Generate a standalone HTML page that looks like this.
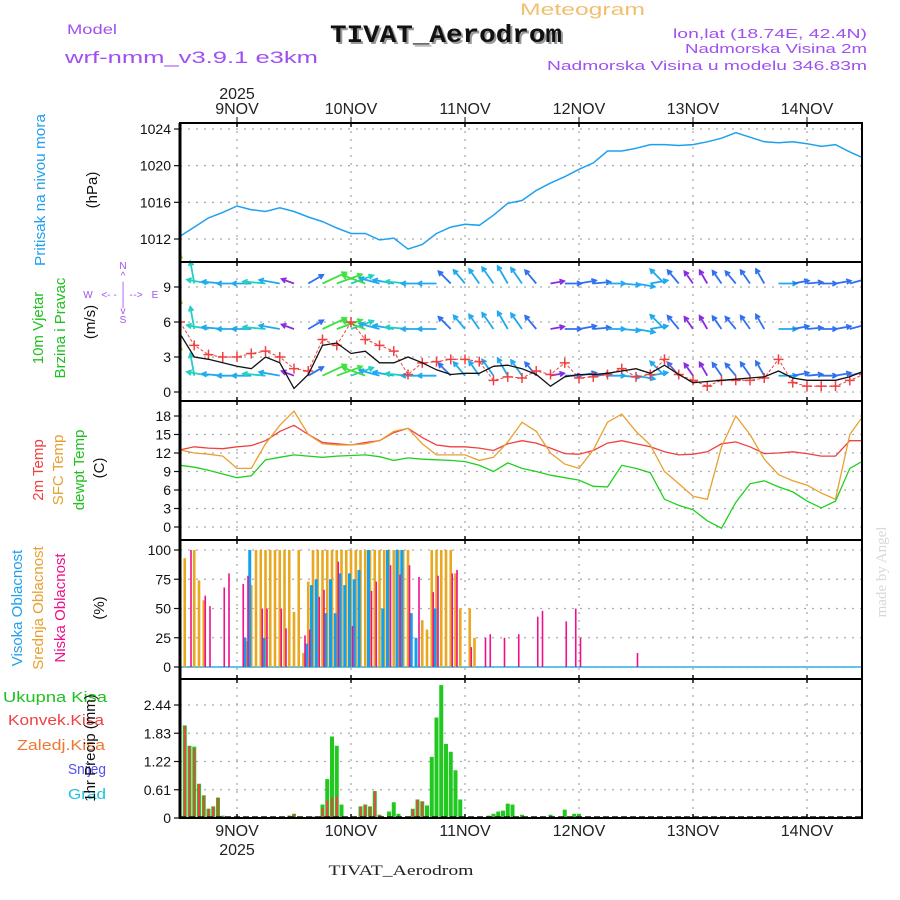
<!DOCTYPE html>
<html><head><meta charset="utf-8"><style>
html,body{margin:0;padding:0;background:#fff;}
svg{display:block;font-family:"Liberation Sans",sans-serif;}
</style></head><body>
<svg id="chart" width="900" height="900" viewBox="0 0 900 900" xmlns="http://www.w3.org/2000/svg">
<rect x="0" y="0" width="900" height="900" fill="#fff"/>
<text x="520" y="15" font-size="17" fill="#f0c070" textLength="125" lengthAdjust="spacingAndGlyphs">Meteogram</text>
<text x="67" y="34" font-size="14" fill="#a050f0" textLength="50" lengthAdjust="spacingAndGlyphs">Model</text>
<text x="65" y="63" font-size="17" fill="#a050f0" textLength="253" lengthAdjust="spacingAndGlyphs">wrf-nmm_v3.9.1 e3km</text>
<text x="448" y="44" font-size="25" font-weight="bold" fill="#999" text-anchor="middle" font-family="Liberation Mono,monospace" textLength="232" lengthAdjust="spacingAndGlyphs">TIVAT_Aerodrom</text>
<text x="446" y="42" font-size="25" font-weight="bold" fill="#111" text-anchor="middle" font-family="Liberation Mono,monospace" textLength="232" lengthAdjust="spacingAndGlyphs">TIVAT_Aerodrom</text>
<text x="867" y="38" font-size="13" fill="#a050f0" text-anchor="end" textLength="194" lengthAdjust="spacingAndGlyphs">lon,lat (18.74E, 42.4N)</text>
<text x="867" y="53" font-size="13" fill="#a050f0" text-anchor="end" textLength="182" lengthAdjust="spacingAndGlyphs">Nadmorska Visina 2m</text>
<text x="867" y="70" font-size="13" fill="#a050f0" text-anchor="end" textLength="320" lengthAdjust="spacingAndGlyphs">Nadmorska Visina u modelu 346.83m</text>
<text x="237" y="99" font-size="16" fill="#222" text-anchor="middle">2025</text>

<!-- left labels -->
<text transform="translate(45,190) rotate(-90)" font-size="15" fill="#20a0f0" text-anchor="middle" textLength="152" lengthAdjust="spacingAndGlyphs">Pritisak na nivou mora</text>
<text transform="translate(97,190) rotate(-90)" font-size="15" fill="#111" text-anchor="middle">(hPa)</text>
<text transform="translate(43,328) rotate(-90)" font-size="15" fill="#20c020" text-anchor="middle">10m Vjetar</text>
<text transform="translate(65,328) rotate(-90)" font-size="15" fill="#20c020" text-anchor="middle">Brzina i Pravac</text>
<text transform="translate(95,322) rotate(-90)" font-size="15" fill="#111" text-anchor="middle">(m/s)</text>
<g fill="#a050f0" font-size="10" text-anchor="middle">
<text x="123" y="269">N</text><text x="123" y="279">^</text><text x="123" y="289">|</text>
<text x="88" y="298">W</text><text x="106" y="298">&lt;-</text><text x="115" y="298">-</text><text x="123" y="298">|</text><text x="131" y="298">-</text><text x="138" y="298">-&gt;</text><text x="155" y="298">E</text>
<text x="123" y="306">|</text><text x="123" y="314">v</text><text x="123" y="323">S</text>
</g>
<text transform="translate(43,470) rotate(-90)" font-size="15" fill="#f04040" text-anchor="middle">2m Temp</text>
<text transform="translate(63,470) rotate(-90)" font-size="15" fill="#e8a030" text-anchor="middle">SFC Temp</text>
<text transform="translate(84,470) rotate(-90)" font-size="15" fill="#20c020" text-anchor="middle">dewpt Temp</text>
<text transform="translate(104,468) rotate(-90)" font-size="15" fill="#111" text-anchor="middle">(C)</text>
<text transform="translate(22,608) rotate(-90)" font-size="15" fill="#20a0f0" text-anchor="middle">Visoka Oblacnost</text>
<text transform="translate(43,608) rotate(-90)" font-size="15" fill="#e8a030" text-anchor="middle">Srednja Oblacnost</text>
<text transform="translate(65,608) rotate(-90)" font-size="15" fill="#f0108c" text-anchor="middle">Niska Oblacnost</text>
<text transform="translate(104,608) rotate(-90)" font-size="15" fill="#111" text-anchor="middle">(%)</text>
<text x="3" y="702" font-size="15" fill="#20c020" textLength="104" lengthAdjust="spacingAndGlyphs">Ukupna Kisa</text>
<text x="8" y="725" font-size="15" fill="#f04040" textLength="96" lengthAdjust="spacingAndGlyphs">Konvek.Kisa</text>
<text x="17" y="750" font-size="15" fill="#f07830" textLength="88" lengthAdjust="spacingAndGlyphs">Zaledj.Kisa</text>
<text x="68" y="774" font-size="15" fill="#5050f0" textLength="38" lengthAdjust="spacingAndGlyphs">Snijeg</text>
<text x="68" y="799" font-size="15" fill="#20c0e0" textLength="38" lengthAdjust="spacingAndGlyphs">Grad</text>
<text transform="translate(95,748) rotate(-90)" font-size="15" fill="#111" text-anchor="middle">1hr Precip (mm)</text>
<text transform="translate(886,572) rotate(-90)" font-size="15" fill="#d8d8d8" text-anchor="middle" font-family="Liberation Serif,serif">made by Angel</text>
<text x="237" y="855" font-size="16" fill="#222" text-anchor="middle">2025</text>
<text x="401" y="875" font-size="15" fill="#222" text-anchor="middle" font-family="Liberation Serif,serif" textLength="145" lengthAdjust="spacingAndGlyphs">TIVAT_Aerodrom</text>
<g id="plot"></g>
</svg>
<script>
// ---- data (time axis: hours from 8NOV 12Z; 3-hourly series) ----
const dayLabels = ["9NOV","10NOV","11NOV","12NOV","13NOV","14NOV"];
const dayHours = [12,36,60,84,108,132];
const pressTicks = [1012,1016,1020,1024];
const windTicks = [0,3,6,9];
const tempTicks = [0,3,6,9,12,15,18];
const cloudTicks = [0,25,50,75,100];
const precipTicks = [0,0.61,1.22,1.83,2.44];
const pressure = [1012.3,1013.3,1014.3,1014.9,1015.6,1015.2,1015.0,1015.4,1015.0,1014.4,1013.9,1013.2,1012.6,1012.6,1011.9,1012.1,1010.9,1011.4,1012.6,1013.3,1013.6,1013.5,1014.6,1015.9,1016.2,1017.3,1018.1,1018.8,1019.6,1020.3,1021.6,1021.6,1021.9,1022.3,1022.3,1022.2,1022.3,1022.6,1023.0,1023.6,1023.1,1022.6,1022.5,1022.6,1022.4,1022.1,1022.3,1021.5,1020.8];
const temp2m = [12.5,13.0,12.8,12.7,13.0,13.2,14.0,15.5,16.5,15.0,13.7,13.5,13.3,13.7,14.0,15.3,16.0,14.5,13.3,13.0,13.0,12.8,12.4,13.5,14.0,13.6,12.8,11.9,11.8,12.4,13.6,14.0,13.5,13.0,12.2,11.7,11.8,12.2,13.5,13.8,13.0,11.9,12.0,12.2,11.9,11.5,11.5,14.0,14.0];
const tempSfc = [12.5,12.0,11.8,11.5,9.5,9.5,13.5,16.5,18.8,15.0,13.5,13.3,13.3,13.5,14.0,15.5,16.0,13.5,11.7,11.7,11.7,10.8,11.3,13.8,17.0,15.5,12.0,10.2,9.5,12.5,17.0,18.3,15.5,13.3,9.0,7.0,5.0,4.5,13.0,18.0,15.0,11.0,8.5,7.5,6.8,5.5,4.5,15.0,18.2];
const dewpt = [10,9.7,9.2,8.6,8.0,8.3,10.9,11.3,11.7,11.5,11.3,11.5,11.6,11.7,11.4,10.8,11.2,11.0,10.9,10.8,10.6,10.0,9.0,10.4,9.5,9.0,8.4,8.0,7.6,6.6,6.5,10.0,9.5,8.8,4.5,3.5,2.8,1.0,-0.2,4.0,7.0,7.5,6.5,5.7,4.2,3.1,4.2,9.5,10.8];
const windSpeed = [5,3,2.8,2.5,2.2,2,3,2.5,0.3,1.5,4,4.2,3.3,3.5,2.5,2.5,3,2.5,1.9,1.5,1.6,1.6,2.2,2.3,2,1.5,0.5,1.3,1.5,1.5,1.6,1.8,2,1.6,2.3,1.5,0.8,0.9,1,1.1,1.2,1.3,1.8,1.2,1,1,1,1.3,1.8];
const windGust = [6,4,3.2,3,3,3.3,3.5,3,2,1.8,4.5,4,6,4.5,4,3.5,1.5,2.5,2.6,2.8,2.8,2.6,1,1.3,1.2,1.8,1.5,2.5,1.2,1.3,1.5,2,1.3,1.5,2.8,1.5,1,0.5,1,1,1,1.2,2.8,0.8,0.5,0.5,0.5,1,1.5];
const windAngle = [270,260,190,185,180,180,185,190,200,330,335,340,340,200,195,190,185,180,180,225,230,235,235,240,235,230,350,0,350,355,0,5,10,350,225,230,235,240,235,230,235,240,0,350,355,0,350,345,345];
const windRows = [9.3,5.4,1.4];
// cloud cover: hourly bars (hour index, percent)
const highHours = [14,15,18,27,28,29,31,32,33,34,35,36,37,38,40,43,44,46,47,49,50,54];
const highVals  = [25,100,25,20,70,75,46,75,46,80,70,80,75,83,100,50,100,100,100,46,25,50];
const midHours = [1,3,4,5,14,15,16,17,18,19,20,21,22,23,24,25,26,27,28,29,30,31,32,33,34,35,36,37,38,39,40,41,42,43,44,45,46,47,48,51,52,53,54,55,56,57,58,59,61,62];
const midVals  = [93,100,74,57,22,70,100,100,100,100,100,100,100,100,47,100,12,73,100,100,100,100,100,100,100,100,100,100,100,100,100,100,100,100,100,100,100,100,100,40,32,100,100,100,100,100,80,50,50,25];
const lowHours = [2,5,6,9,10,13,14,17,18,21,22,26,27,29,30,33,36,40,41,44,46,48,50,53,54,57,58,61,64,65,68,71,75,76,81,83,84,96];
const lowVals  = [100,61,52,68,80,71,78,50,50,50,33,27,32,60,66,90,35,65,73,87,79,87,77,64,78,80,83,17,25,28,25,28,43,48,39,50,25,12];
// precipitation (hour index, mm)
const totHours = [1,2,3,4,5,6,7,8,9,10,23,24,25,28,30,31,32,33,34,38,39,40,41,42,44,45,46,49,50,51,52,53,54,55,56,57,58,59,65,66,67,68,69,70,71,72,78,80,81,82,83,84];
const totVals  = [2.0,1.56,1.54,0.74,0.49,0.2,0.25,0.44,0.05,0.03,0.05,0.09,0.03,0.03,0.29,0.84,1.76,1.56,0.29,0.25,0.29,0.25,0.58,0.07,0.14,0.34,0.09,0.2,0.4,0.36,0.27,1.32,2.17,2.87,1.6,1.43,1.03,0.4,0.05,0.09,0.14,0.16,0.31,0.29,0.03,0.07,0.07,0.03,0.18,0.03,0.09,0.09];
const convHours = [1,2,3,4,5,6,7,8,9,23,24,25,30,31,32,33,38,39,40,41,42,49,50,51,55];
const convVals  = [1.98,1.55,1.5,0.73,0.48,0.2,0.25,0.44,0.03,0.05,0.09,0.03,0.22,0.38,0.44,0.47,0.25,0.29,0.25,0.58,0.07,0.18,0.4,0.36,0.02];

// ---- layout ----
const NS = "http://www.w3.org/2000/svg";
const plot = document.getElementById("plot");
const X0 = 180, X1 = 862;
const x = h => X0 + h * 4.75;
const stepH = 3;
const panels = {
  press: {top:123, bot:262, y: v => 129 + (1024 - v) * (110/12)},
  wind:  {top:262, bot:401, y: v => 392 - v * (105/9)},
  temp:  {top:401, bot:540, y: v => 527 - v * (111/18)},
  cloud: {top:540, bot:679, y: v => 667 - v * 1.17},
  precip:{top:679, bot:818, y: v => 818 - v * (113/2.44)}
};
function el(tag, attrs, parent) {
  const e = document.createElementNS(NS, tag);
  for (const k in attrs) e.setAttribute(k, attrs[k]);
  (parent || plot).appendChild(e);
  return e;
}
function group(name) {
  const g = el("g", {});
  
  
  return g;
}
const clip = el("clipPath", {id:"pc"});
el("rect", {x:X0, y:123, width:X1-X0, height:695}, clip);

function panelAxis(key, ticks, fmt, name) {
  const p = panels[key];
  const g = group(name);
  ticks.forEach(t => {
    const yy = p.y(t);
    const gl = el("line", {x1:X0, x2:X1, y1:yy, y2:yy, stroke:"#aaa", "stroke-width":1.3, "stroke-dasharray":"2,6"}, g);
    
    
    el("line", {x1:X0-6, x2:X0, y1:yy, y2:yy, stroke:"#111", "stroke-width":1.2}, g);
    const tx = el("text", {x:X0-9, y:yy+5, "font-size":14, fill:"#111", "text-anchor":"end"}, g);
    tx.textContent = fmt(t);
    
    
  });
  dayHours.forEach(h => {
    const vl = el("line", {x1:x(h), x2:x(h), y1:p.top, y2:p.bot, stroke:"#aaa", "stroke-width":1.3, "stroke-dasharray":"2,6"}, g);
    
    
    el("line", {x1:x(h), x2:x(h), y1:p.top, y2:p.top+4, stroke:"#111", "stroke-width":1.5}, g);
    el("line", {x1:x(h), x2:x(h), y1:p.bot-4, y2:p.bot, stroke:"#111", "stroke-width":1.5}, g);
  });
}
panelAxis("press", pressTicks, t => String(t), "pressure-axis");
panelAxis("wind", windTicks, t => String(t), "wind-axis");
panelAxis("temp", tempTicks, t => String(t), "temperature-axis");
panelAxis("cloud", cloudTicks, t => String(t), "cloud-axis");
panelAxis("precip", precipTicks, t => String(t), "precip-axis");

const dl = group("day-labels");
dayLabels.forEach((lab, i) => {
  const t1 = el("text", {x:x(dayHours[i]), y:114, "font-size":16, fill:"#222", "text-anchor":"middle"}, dl);
  t1.textContent = lab;
  
  
  el("line", {x1:x(dayHours[i]), x2:x(dayHours[i]), y1:117, y2:123, stroke:"#111"}, dl);
  const t2 = el("text", {x:x(dayHours[i]), y:836, "font-size":16, fill:"#222", "text-anchor":"middle"}, dl);
  t2.textContent = lab;
  
  
});

function linePath(arr, yf) {
  return arr.map((v, i) => (i ? "L" : "M") + x(i*stepH).toFixed(1) + "," + yf(v).toFixed(1)).join(" ");
}
const data = group("series");
data.setAttribute("clip-path", "url(#pc)");

const pl = el("path", {d:linePath(pressure, panels.press.y), fill:"none", stroke:"#1ea0f0", "stroke-width":1.5}, data);



function windColor(s) {
  if (s < 1) return "#8a2be2";
  if (s < 1.6) return "#3070f0";
  if (s < 2.6) return "#20a8f0";
  if (s < 3.5) return "#20d0c0";
  if (s < 4.5) return "#40e040";
  if (s < 5.5) return "#c0e020";
  if (s < 6.5) return "#f0a020";
  return "#f03060";
}
const wy = panels.wind.y;
windRows.forEach((rv, r) => {
  const g = el("g", {}, data);
  
  
  windAngle.forEach((a, i) => {
    const s = windSpeed[i];
    const len = 12 + s * 3.5;
    const rad = a * Math.PI / 180;
    const bx = x(i*stepH), by = wy(rv);
    const ex = bx + Math.cos(rad) * len, ey = by + Math.sin(rad) * len;
    const c = windColor(s);
    const hl = 5;
    const h1 = rad + Math.PI - 0.5, h2 = rad + Math.PI + 0.5;
    const ar = el("path", {d:`M${bx},${by} L${ex},${ey} M${ex + Math.cos(h1)*hl},${ey + Math.sin(h1)*hl} L${ex},${ey} L${ex + Math.cos(h2)*hl},${ey + Math.sin(h2)*hl}`, stroke:c, "stroke-width":1.8, fill:"none"}, g);
    
    
  });
});
const gl = el("path", {d:linePath(windGust, wy), fill:"none", stroke:"#f04040", "stroke-width":1, "stroke-dasharray":"3,2"}, data);


windGust.forEach((v, i) => {
  const px = x(i*stepH), py = wy(v);
  const m = el("path", {d:`M${px-5},${py} L${px+5},${py} M${px},${py-5} L${px},${py+5}`, stroke:"#f04040", "stroke-width":1.5}, data);
  
  
});
const sl = el("path", {d:linePath(windSpeed, wy), fill:"none", stroke:"#111", "stroke-width":1.3}, data);



const ty = panels.temp.y;
const t2 = el("path", {d:linePath(temp2m, ty), fill:"none", stroke:"#f04040", "stroke-width":1.3}, data);


const ts = el("path", {d:linePath(tempSfc, ty), fill:"none", stroke:"#e8a030", "stroke-width":1.3}, data);


const td = el("path", {d:linePath(dewpt, ty), fill:"none", stroke:"#20d020", "stroke-width":1.3}, data);



const cy = panels.cloud.y;
const base = el("line", {x1:X0, x2:X1, y1:cy(0), y2:cy(0), stroke:"#30b0e0", "stroke-width":1.5}, data);


function bars(hours, vals, yf, off, w, color, name) {
  hours.forEach((h, i) => {
    const top = yf(vals[i]), y0 = yf(0);
    const b = el("rect", {x:x(h)+off-w/2, y:top, width:w, height:Math.max(0, y0-top), fill:color}, data);
    
    
  });
}
bars(midHours, midVals, cy, 0, 2.6, "#e8a820", "mid-cloud-bar");
bars(highHours, highVals, cy, -1.5, 3, "#10a0f0", "high-cloud-bar");
bars(lowHours, lowVals, cy, 1.5, 1.6, "#f0108c", "low-cloud-bar");

const py = panels.precip.y;
bars(totHours, totVals, py, 0, 4, "#20c820", "total-precip-bar");
bars(convHours, convVals, py, 0, 2, "#f04040", "convective-precip-bar");
const zl = el("line", {x1:X0, x2:X1, y1:817, y2:817, stroke:"#111", "stroke-width":1.5, "stroke-dasharray":"6,3"}, data);



const fr = group("panel-frames");
["press","wind","temp","cloud","precip"].forEach(k => {
  const p = panels[k];
  const r = el("rect", {x:X0, y:p.top, width:X1-X0, height:p.bot-p.top, fill:"none", stroke:"#000", "stroke-width":2}, fr);
  
  
});
el("line", {x1:X0, x2:X0, y1:123, y2:818, stroke:"#000", "stroke-width":3}, fr);
</script>
</body></html>
